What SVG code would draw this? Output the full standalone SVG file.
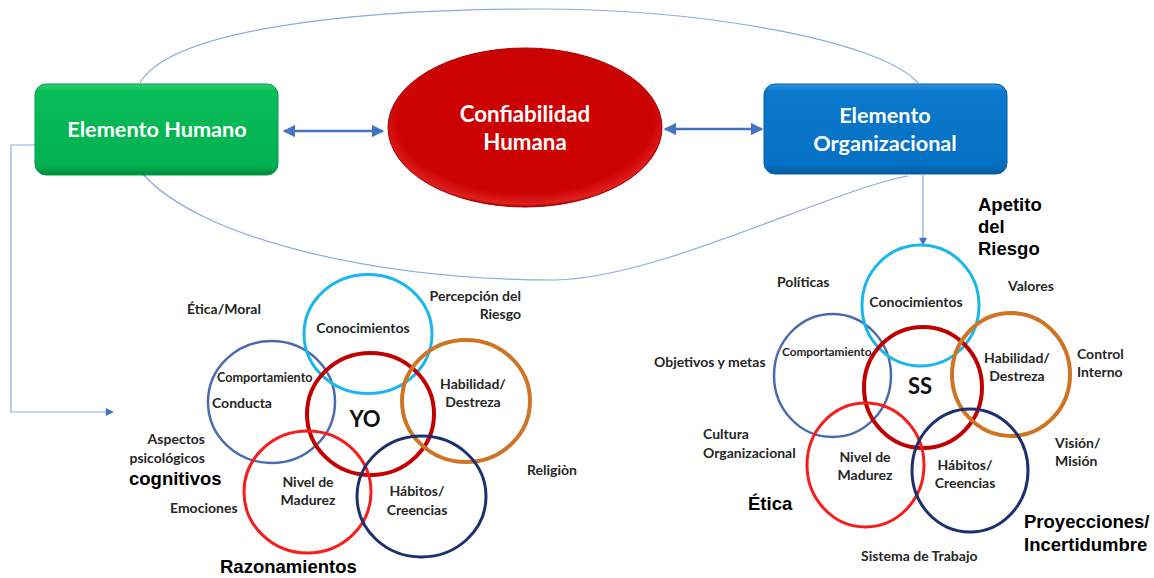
<svg xmlns="http://www.w3.org/2000/svg" width="1154" height="578" viewBox="0 0 1154 578">
  <defs>
    <linearGradient id="gGreen" x1="0" y1="0" x2="0" y2="1">
      <stop offset="0" stop-color="#2fcf73"/>
      <stop offset="0.08" stop-color="#08bd57"/>
      <stop offset="0.9" stop-color="#03b152"/>
      <stop offset="1" stop-color="#018a3c"/>
    </linearGradient>
    <linearGradient id="gBlue" x1="0" y1="0" x2="0" y2="1">
      <stop offset="0" stop-color="#3193e0"/>
      <stop offset="0.08" stop-color="#0a78cc"/>
      <stop offset="0.9" stop-color="#0671c4"/>
      <stop offset="1" stop-color="#045a9c"/>
    </linearGradient>
    <radialGradient id="gRed" cx="0.5" cy="0.45" r="0.55">
      <stop offset="0" stop-color="#cc0000"/>
      <stop offset="0.85" stop-color="#cc0303"/>
      <stop offset="0.97" stop-color="#e02020"/>
      <stop offset="1" stop-color="#9a0000"/>
    </radialGradient>
    <marker id="arrEnd" viewBox="0 0 10 10" refX="9" refY="5" markerWidth="5" markerHeight="5" orient="auto" markerUnits="strokeWidth">
      <path d="M0,0 L10,5 L0,10 z" fill="#4472c4"/>
    </marker>
    <marker id="arrStart" viewBox="0 0 10 10" refX="1" refY="5" markerWidth="5" markerHeight="5" orient="auto" markerUnits="strokeWidth">
      <path d="M10,0 L0,5 L10,10 z" fill="#4472c4"/>
    </marker>
    <marker id="arrThin" viewBox="0 0 10 10" refX="9" refY="5" markerWidth="10" markerHeight="8" orient="auto" markerUnits="userSpaceOnUse">
      <path d="M0,0 L10,5 L0,10 z" fill="#4472c4"/>
    </marker>
    <style>
      .sm { font-family: Lato, "Liberation Sans", sans-serif; font-weight: 700; font-size: 14px; fill: #262626; }
      .xs { font-family: Lato, "Liberation Sans", sans-serif; font-weight: 700; font-size: 12.6px; fill: #262626; }
      .xs2 { font-family: Lato, "Liberation Sans", sans-serif; font-weight: 700; font-size: 11.8px; fill: #262626; }
      .big { font-family: "Liberation Sans", Arial, sans-serif; font-weight: 700; font-size: 18.5px; fill: #000; }
      .ctr { font-family: Lato, "Liberation Sans", sans-serif; font-weight: 700; font-size: 22px; fill: #111; }
      .head { font-family: Lato, "Liberation Sans", sans-serif; font-weight: 700; font-size: 21.7px; fill: #ffffff; }
      .ring { fill: none; }
      .cLight { stroke: #1bb6ec; stroke-width: 3; }
      .cSteel { stroke: #4a6cae; stroke-width: 2.5; }
      .cDark { stroke: #c00000; stroke-width: 4; }
      .cOrange { stroke: #cd7425; stroke-width: 4; }
      .cRed { stroke: #f51d1d; stroke-width: 3; }
      .cNavy { stroke: #1c2f6e; stroke-width: 3; }
      .thin { fill: none; stroke: #8eaadc; stroke-width: 1.2; }
      .dbl { fill: none; stroke: #4472c4; stroke-width: 2.5; }
    </style>
  </defs>

  <rect width="1154" height="578" fill="#ffffff"/>

  <!-- connectors -->
  <g id="connectors">
    <!-- loop joining the two elements around the centre -->
    <path class="thin" d="M140,83 C170,30 350,9 540,9 C700,9 880,40 918,83"/>
    <path class="thin" d="M142,173 C200,240 380,280 555,280 C660,278 830,190 908,176"/>
    <!-- side links -->
    <line class="dbl" x1="284" y1="131" x2="383" y2="131" marker-start="url(#arrStart)" marker-end="url(#arrEnd)"/>
    <line class="dbl" x1="665" y1="129" x2="762" y2="129" marker-start="url(#arrStart)" marker-end="url(#arrEnd)"/>
    <!-- drop-downs to the two sets -->
    <polyline class="thin" points="35,145 11,145 11,412 113,412" marker-end="url(#arrThin)"/>
    <line class="thin" x1="923" y1="175" x2="923" y2="245" marker-end="url(#arrThin)"/>
  </g>

  <!-- main elements -->
  <g id="elemento-humano">
    <rect x="35" y="84" width="243" height="91" rx="11" fill="url(#gGreen)" stroke="#07994a" stroke-width="1"/>
    <text class="head" x="157" y="137" text-anchor="middle">Elemento Humano</text>
  </g>

  <g id="confiabilidad-humana">
    <ellipse cx="525" cy="127.5" rx="137" ry="79.5" fill="url(#gRed)" stroke="#a50000" stroke-width="1"/>
    <text class="head" x="525" y="122" text-anchor="middle" style="font-size:22.3px">Confiabilidad</text>
    <text class="head" x="525" y="150" text-anchor="middle" style="font-size:22.3px">Humana</text>
  </g>

  <g id="elemento-organizacional">
    <rect x="764" y="84" width="243" height="90" rx="11" fill="url(#gBlue)" stroke="#055ea4" stroke-width="1"/>
    <text class="head" x="885" y="123" text-anchor="middle">Elemento</text>
    <text class="head" x="885" y="151" text-anchor="middle">Organizacional</text>
  </g>

  <!-- personal set: YO -->
  <g id="set-yo">
    <ellipse class="ring cSteel" cx="271.5" cy="402" rx="63.5" ry="61"/>
    <ellipse class="ring cLight" cx="368" cy="334" rx="64" ry="59.5"/>
    <ellipse class="ring cDark" cx="370.5" cy="414" rx="63.5" ry="61"/>
    <ellipse class="ring cOrange" cx="466" cy="401" rx="64" ry="61"/>
    <ellipse class="ring cRed" cx="307.5" cy="492" rx="63.5" ry="61"/>
    <ellipse class="ring cNavy" cx="421.5" cy="496.5" rx="64.5" ry="60.5"/>

    <text class="sm" x="363" y="333" text-anchor="middle">Conocimientos</text>
    <text class="xs" x="217" y="382">Comportamiento</text>
    <text class="sm" x="212" y="408">Conducta</text>
    <text class="ctr" x="365" y="427" text-anchor="middle">YO</text>
    <text class="sm" x="473" y="389" text-anchor="middle">Habilidad/</text>
    <text class="sm" x="473" y="407" text-anchor="middle">Destreza</text>
    <text class="sm" x="308" y="487" text-anchor="middle">Nivel de</text>
    <text class="sm" x="308" y="505" text-anchor="middle">Madurez</text>
    <text class="sm" x="417" y="496" text-anchor="middle">Hábitos/</text>
    <text class="sm" x="417" y="515" text-anchor="middle">Creencias</text>

    <text class="sm" x="187" y="314">Ética/Moral</text>
    <text class="sm" x="521" y="301" text-anchor="end">Percepción del</text>
    <text class="sm" x="521" y="319" text-anchor="end">Riesgo</text>
    <text class="sm" x="205" y="444" text-anchor="end">Aspectos</text>
    <text class="sm" x="205" y="463" text-anchor="end">psicológicos</text>
    <text class="big" x="129" y="485">cognitivos</text>
    <text class="sm" x="170" y="513">Emociones</text>
    <text class="big" x="220" y="573">Razonamientos</text>
    <text class="sm" x="527" y="475">Religiòn</text>
  </g>

  <!-- organizational set: SS -->
  <g id="set-ss">
    <ellipse class="ring cSteel" cx="832.5" cy="375.5" rx="58.5" ry="61.5"/>
    <ellipse class="ring cLight" cx="920.5" cy="305.5" rx="58.5" ry="60.5"/>
    <ellipse class="ring cDark" cx="923" cy="387.5" rx="59" ry="60.5"/>
    <ellipse class="ring cOrange" cx="1011" cy="374.5" rx="59" ry="61.5"/>
    <ellipse class="ring cRed" cx="865.5" cy="465" rx="58.5" ry="62"/>
    <ellipse class="ring cNavy" cx="970" cy="470.5" rx="58" ry="61.5"/>

    <text class="sm" x="916" y="307" text-anchor="middle">Conocimientos</text>
    <text class="xs2" x="782" y="356">Comportamiento</text>
    <text class="ctr" x="920" y="394" text-anchor="middle">SS</text>
    <text class="sm" x="1017" y="363" text-anchor="middle">Habilidad/</text>
    <text class="sm" x="1017" y="381" text-anchor="middle">Destreza</text>
    <text class="sm" x="865" y="462" text-anchor="middle">Nivel de</text>
    <text class="sm" x="865" y="480" text-anchor="middle">Madurez</text>
    <text class="sm" x="965" y="470" text-anchor="middle">Hábitos/</text>
    <text class="sm" x="965" y="488" text-anchor="middle">Creencias</text>

    <text class="big" x="978" y="211">Apetito</text>
    <text class="big" x="978" y="233">del</text>
    <text class="big" x="978" y="255">Riesgo</text>
    <text class="sm" x="777" y="287">Políticas</text>
    <text class="sm" x="1008" y="291">Valores</text>
    <text class="sm" x="654" y="367">Objetivos y metas</text>
    <text class="sm" x="1077" y="359">Control</text>
    <text class="sm" x="1077" y="377">Interno</text>
    <text class="sm" x="703" y="439">Cultura</text>
    <text class="sm" x="703" y="458">Organizacional</text>
    <text class="sm" x="1055" y="448">Visión/</text>
    <text class="sm" x="1055" y="466">Misión</text>
    <text class="big" x="748" y="510">Ética</text>
    <text class="big" x="1024" y="528">Proyecciones/</text>
    <text class="big" x="1024" y="551">Incertidumbre</text>
    <text class="sm" x="861" y="561">Sistema de Trabajo</text>
  </g>
</svg>
